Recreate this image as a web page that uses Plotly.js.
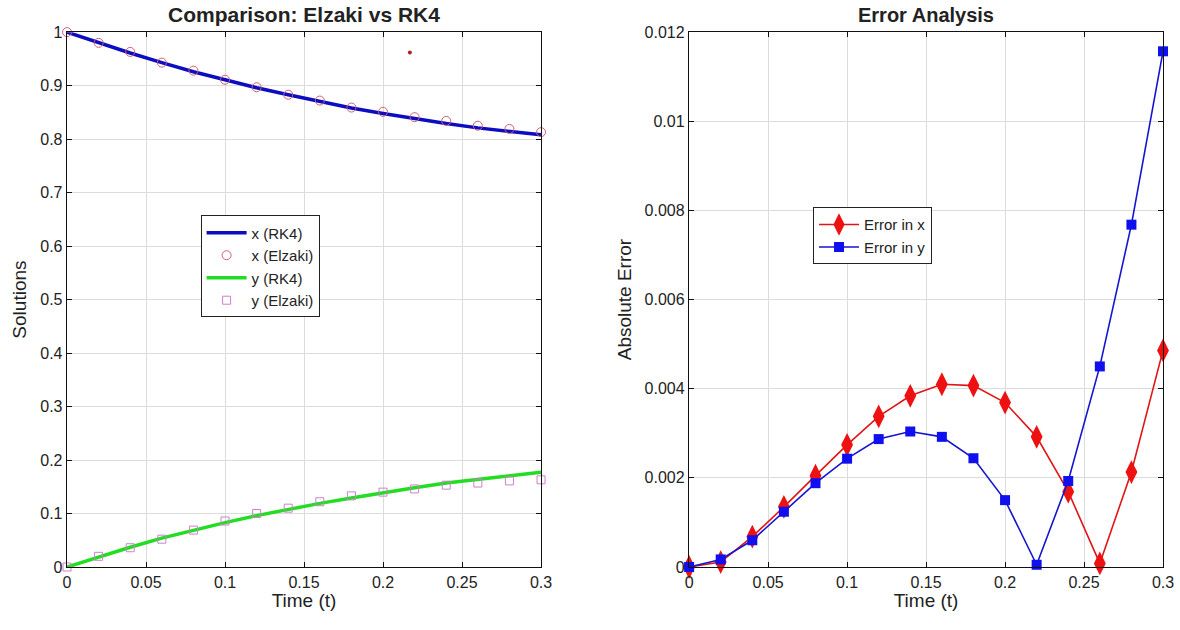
<!DOCTYPE html>
<html>
<head>
<meta charset="utf-8">
<script src="https://cdn.plot.ly/plotly-3.0.1.min.js"></script>
<style>html,body{margin:0;padding:0;background:#fff;}#chart{width:1180px;height:630px;}</style>
</head>
<body>
<div id="chart"></div>
<script>
// Time grid
const t = [0,0.02,0.04,0.06,0.08,0.1,0.12,0.14,0.16,0.18,0.2,0.22,0.24,0.26,0.28,0.3];
// Left: solutions
const xRK4    = [1,0.980,0.961,0.943,0.926,0.911,0.896,0.883,0.870,0.858,0.848,0.838,0.829,0.821,0.814,0.808];
const xElzaki = [1,0.980,0.963,0.943,0.928,0.911,0.897,0.883,0.872,0.859,0.851,0.841,0.834,0.825,0.819,0.813];
const yRK4    = [0,0.019,0.037,0.054,0.069,0.083,0.096,0.108,0.119,0.129,0.139,0.148,0.157,0.164,0.171,0.177];
const yElzaki = [0,0.020,0.036,0.052,0.069,0.086,0.100,0.110,0.122,0.133,0.140,0.146,0.153,0.157,0.161,0.163];
// stray dot seen in the reference
const strayT = [0.217];
const strayV = [0.962];
// Right: errors
const errX = [0,0.00011,0.00068,0.00135,0.00205,0.00274,0.00338,0.00384,0.00410,0.00407,0.00369,0.00292,0.00169,0.00008,0.00213,0.00486];
const errY = [0,0.00017,0.00060,0.00124,0.00188,0.00243,0.00287,0.00304,0.00292,0.00244,0.00150,0.00005,0.00193,0.00450,0.00768,0.01157];

const fam = 'Liberation Sans, Arial, sans-serif';
const font = {family:fam, color:'#222'};
const traces = [
  {x:t, y:xRK4, mode:'lines', name:'x (RK4)', line:{color:'#0c0cc0', width:3.5}, xaxis:'x', yaxis:'y', legend:'legend'},
  {x:t, y:xElzaki, mode:'markers', name:'x (Elzaki)', cliponaxis:false, marker:{symbol:'circle-open', color:'#d06070', size:9, line:{width:1}}, xaxis:'x', yaxis:'y', legend:'legend'},
  {x:t, y:yRK4, mode:'lines', name:'y (RK4)', line:{color:'#22dd22', width:3.5}, xaxis:'x', yaxis:'y', legend:'legend'},
  {x:t, y:yElzaki, mode:'markers', name:'y (Elzaki)', cliponaxis:false, marker:{symbol:'square-open', color:'#cc80cc', size:8, line:{width:1}}, xaxis:'x', yaxis:'y', legend:'legend'},
  {x:strayT, y:strayV, mode:'markers', showlegend:false, marker:{color:'#b02020', size:4}, xaxis:'x', yaxis:'y', hoverinfo:'skip'},
  {x:t, y:errX, mode:'lines+markers', name:'Error in x', cliponaxis:false, line:{color:'#e01515', width:1.6}, marker:{symbol:'diamond-tall', color:'#ee1111', size:17}, xaxis:'x2', yaxis:'y2', legend:'legend2'},
  {x:t, y:errY, mode:'lines+markers', name:'Error in y', cliponaxis:false, line:{color:'#1515d0', width:1.6}, marker:{symbol:'square', color:'#1010ee', size:10}, xaxis:'x2', yaxis:'y2', legend:'legend2'}
];

const axisBase = {
  showline:true, linecolor:'#111', linewidth:1.3, mirror:'ticks',
  ticks:'inside', ticklen:5, tickcolor:'#111',
  showgrid:true, gridcolor:'#dcdcdc', gridwidth:1, zeroline:false,
  tickfont:{family:fam, size:16, color:'#222'}
};
const atitle = {family:fam, size:19, color:'#222'};

const layout = {
  width:1180, height:630,
  margin:{l:0, r:0, t:0, b:0},
  paper_bgcolor:'#fff', plot_bgcolor:'#fff',
  font:font,
  xaxis:Object.assign({}, axisBase, {domain:[0.0568,0.4585], range:[0,0.3], dtick:0.05, anchor:'y',
    title:{text:'Time (t)', font:atitle, standoff:4}}),
  yaxis:Object.assign({}, axisBase, {domain:[0.1,0.949], range:[0,1], dtick:0.1, anchor:'x',
    title:{text:'Solutions', font:atitle, standoff:8}}),
  xaxis2:Object.assign({}, axisBase, {domain:[0.584,0.9856], range:[0,0.3], dtick:0.05, anchor:'y2',
    title:{text:'Time (t)', font:atitle, standoff:4}}),
  yaxis2:Object.assign({}, axisBase, {domain:[0.1,0.949], range:[0,0.012], dtick:0.002, anchor:'x2',
    title:{text:'Absolute Error', font:atitle, standoff:8}}),
  legend:{x:0.17, y:0.658, xanchor:'left', yanchor:'top', bgcolor:'#fff', bordercolor:'#222', borderwidth:1,
    font:{family:fam, size:15, color:'#222'}, tracegroupgap:0, itemwidth:40},
  legend2:{x:0.689, y:0.671, xanchor:'left', yanchor:'top', bgcolor:'#fff', bordercolor:'#222', borderwidth:1,
    font:{family:fam, size:15, color:'#222'}, tracegroupgap:0, itemwidth:40},
  annotations:[
    {text:'<b>Comparison: Elzaki vs RK4</b>', xref:'paper', yref:'paper', x:0.2577, y:0.955, xanchor:'center', yanchor:'bottom', showarrow:false, font:{family:fam, size:21, color:'#222'}},
    {text:'<b>Error Analysis</b>', xref:'paper', yref:'paper', x:0.785, y:0.955, xanchor:'center', yanchor:'bottom', showarrow:false, font:{family:fam, size:20, color:'#222'}}
  ],
  showlegend:true
};

Plotly.newPlot('chart', traces, layout, {displayModeBar:false, staticPlot:true});
</script>
</body>
</html>
